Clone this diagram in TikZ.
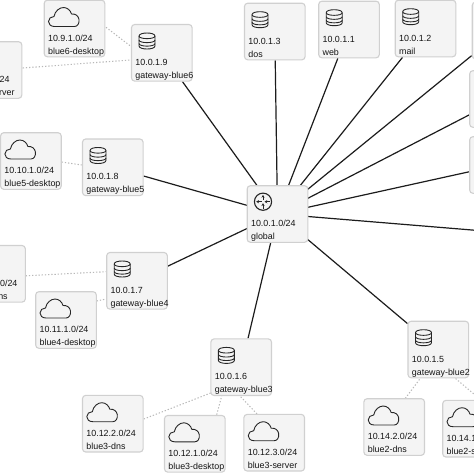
\documentclass[tikz,border=0pt]{standalone}
\usepackage{fontspec}
\setmainfont{Liberation Sans}
\usetikzlibrary{calc,backgrounds,arrows.meta}
\tikzset{
  netbg/.style={draw=boxline,fill=boxfill,line width=1.1pt,rounded corners=3.2pt,minimum width=60.6pt,minimum height=56.6pt,inner sep=0pt},
  netlabel/.style={anchor=base west,inner sep=0pt,text=labelink,font=\fontsize{8.9}{11}\selectfont},
  trunk/.style={draw=trunkink,line width=1.2pt},
  sublink/.style={draw=dotink,line width=1.05pt,dash pattern=on 1.3pt off 1.9pt},
  iconline/.style={draw=iconink,line width=.9pt,fill=boxfill,line join=round}
}
\definecolor{boxline}{HTML}{D0D0D0}
\definecolor{boxfill}{HTML}{F4F4F4}
\definecolor{labelink}{HTML}{151515}
\definecolor{trunkink}{HTML}{1C1C1C}
\definecolor{dotink}{HTML}{B8B8B8}
\definecolor{iconink}{HTML}{262626}
\newcommand{\cloudicon}[1]{%
  \begin{scope}[shift={(#1.center)},shift={(-26,-21)}]
  \draw[iconline] (6,19) .. controls (2,19) and (0,16.5) .. (0,14) .. controls (0,11) and (2.5,9) .. (5.5,9) .. controls (6.5,3.5) and (11,0) .. (15,0) .. controls (19,0) and (22,3) .. (23,6.5) .. controls (27,6) and (30,8.5) .. (30.5,12) .. controls (31,16) and (29,19) .. (26,19) -- cycle;
  \end{scope}}
\newcommand{\dbicon}[1]{%
  \begin{scope}[shift={(#1.center)},shift={(-14.8,-11.8)}]
  \draw[iconline] (-8,-5) .. controls (-8,-9) and (8,-9) .. (8,-5) -- (8,5) .. controls (8,9) and (-8,9) .. (-8,5) -- cycle;
  \draw[iconline,fill=none] (-8,-5) .. controls (-8,-1.5) and (8,-1.5) .. (8,-5);
  \draw[iconline,fill=none] (-8,-1) .. controls (-8,2.5) and (8,2.5) .. (8,-1);
  \draw[iconline,fill=none] (-8,2.5) .. controls (-8,6) and (8,6) .. (8,2.5);
  \end{scope}}
\newcommand{\routericon}[1]{%
  \begin{scope}[shift={(#1.center)},shift={(-14.5,-12.3)}]
  \draw[iconline,line width=1.1pt] (0,0) circle[radius=8.6];
  \begin{scope}[line width=.9pt,draw=iconink,>={Stealth[length=2.8pt,width=3.2pt]}]
  \draw[->] (0,-1.5) -- (0,-6.8);
  \draw[->] (0,6.8) -- (0,1.5);
  \draw[->] (-1.5,0) -- (-6.8,0);
  \draw[->] (6.8,0) -- (1.5,0);
  \end{scope}
  \end{scope}}
% id, cx, cy, icon, line 1, line 2
\newcommand{\netbox}[6]{%
  \node[netbg] (#1) at (#2,#3) {};
  #4{#1}
  \node[netlabel] (#1-a) at ($(#1.center)+(-26.6,12.6)$) {#5};
  \node[netlabel] (#1-b) at ($(#1.center)+(-26.6,25.6)$) {#6};}
\newcommand{\sublk}[6]{%
  \draw[sublink] ($(#1.center)+(#2,#3)$) -- ($(#4.center)+(#5,#6)$);}
\begin{document}
\begin{tikzpicture}[x=1pt,y=-1pt]
\useasboundingbox (0,0) rectangle (474,474);
\netbox{bsixdesk}{74.5}{28.5}{\cloudicon}{10.9.1.0/24}{blue6-desktop}
\netbox{gwsix}{161.8}{52.8}{\dbicon}{10.0.1.9}{gateway-blue6}
\netbox{bsixserver}{-8.5}{70}{\cloudicon}{10.9.3.0/24}{blue6-server}
\netbox{bfivedesk}{30.9}{161}{\cloudicon}{10.10.1.0/24}{blue5-desktop}
\netbox{gwfive}{112.8}{167.3}{\dbicon}{10.0.1.8}{gateway-blue5}
\netbox{dos}{274.8}{31.5}{\dbicon}{10.0.1.3}{dos}
\netbox{web}{349}{29.5}{\dbicon}{10.0.1.1}{web}
\netbox{mail}{425.5}{28.5}{\dbicon}{10.0.1.2}{mail}
\node[netbg] (righta) at (502.5,30.5) {};
\node[netbg] (rightb) at (500,99) {};
\node[netbg] (rightc) at (500,165) {};
\netbox{global}{277.5}{214}{\routericon}{10.0.1.0/24}{global}
\netbox{gwfour}{137}{280.8}{\dbicon}{10.0.1.7}{gateway-blue4}
\netbox{bfourdns}{-5}{273.8}{\cloudicon}{10.11.2.0/24}{blue4-dns}
\netbox{bfourdesk}{66}{320}{\cloudicon}{10.11.1.0/24}{blue4-desktop}
\netbox{gwthree}{241.2}{367.2}{\dbicon}{10.0.1.6}{gateway-blue3}
\netbox{bthreedns}{112.8}{423.7}{\cloudicon}{10.12.2.0/24}{blue3-dns}
\netbox{bthreedesk}{194.8}{443.8}{\cloudicon}{10.12.1.0/24}{blue3-desktop}
\netbox{bthreeserver}{274.2}{442.7}{\cloudicon}{10.12.3.0/24}{blue3-server}
\netbox{gwtwo}{438.3}{349.5}{\dbicon}{10.0.1.5}{gateway-blue2}
\netbox{btwodns}{394.2}{427}{\cloudicon}{10.14.2.0/24}{blue2-dns}
\netbox{btwoserver}{473}{428.7}{\cloudicon}{10.14.1.0/24}{blue2-server}
\coordinate (farright) at (540,235.6);
\begin{pgfonlayer}{background}
\foreach \peer in {dos,web,mail,righta,rightb,rightc,farright,gwsix,gwfive,gwfour,gwthree,gwtwo}
  \draw[trunk] (global.center) -- (\peer);
\sublk{bsixdesk}{31.5}{-1.2}{gwsix}{-31.8}{-7.1}
\sublk{bsixserver}{31.2}{-2}{gwsix}{-31.8}{7.2}
\sublk{bfivedesk}{30.8}{1}{gwfive}{-31.1}{-2.3}
\sublk{bfourdns}{30.7}{2}{gwfour}{-31}{-9.1}
\sublk{bfourdesk}{30.7}{-19}{gwfour}{-31}{18.2}
\sublk{bthreedns}{31}{-4.7}{gwthree}{-30.5}{25.8}
\sublk{bthreedesk}{21.9}{-29.1}{gwthree}{-19.5}{28.8}
\sublk{bthreeserver}{-17.2}{-28.7}{gwthree}{-1.2}{28.8}
\sublk{btwodns}{11.1}{-28.7}{gwtwo}{-18}{28.8}
\sublk{btwoserver}{8}{-28.7}{gwtwo}{17}{28.8}
\end{pgfonlayer}
\end{tikzpicture}
\end{document}
